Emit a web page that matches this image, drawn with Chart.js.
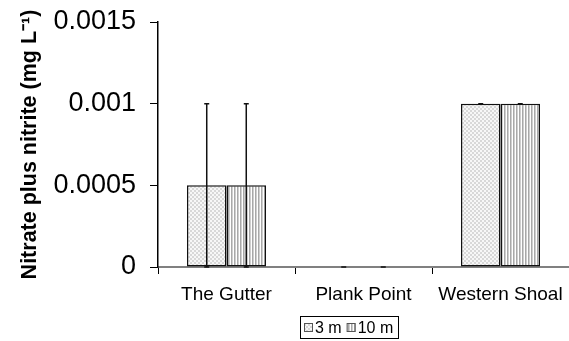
<!DOCTYPE html>
<html>
<head>
<meta charset="utf-8">
<script src="https://cdn.jsdelivr.net/npm/chart.js@4.4.1/dist/chart.umd.min.js"></script>
<style>
  html, body { margin: 0; padding: 0; background: #fff; }
  #wrap { width: 569px; height: 341px; position: relative; }
</style>
</head>
<body>
<div id="wrap"><canvas id="c" width="569" height="341"></canvas></div>
<script>
// Sites and mean nitrate + nitrite concentrations at two depths
const categories = ['The Gutter', 'Plank Point', 'Western Shoal'];
const depth3m = [0.0005, 0, 0.001];
const depth10m = [0.0005, 0, 0.001];
// Symmetric error (± value) for each bar
const err3m = [0.0005, 0, 0];
const err10m = [0.0005, 0, 0];
const yTickLabels = ['0', '0.0005', '0.001', '0.0015'];
const seriesNames = ['3 m', '10 m'];

// Fill patterns: fine checker for 3 m, vertical stripes for 10 m
function checkerPattern() {
  const c = document.createElement('canvas');
  c.width = 4; c.height = 4;
  const g = c.getContext('2d');
  g.fillStyle = '#f7f7f7'; g.fillRect(0, 0, 4, 4);
  g.fillStyle = '#d8d8d8';
  g.fillRect(0, 0, 2, 2); g.fillRect(2, 2, 2, 2);
  return g.createPattern(c, 'repeat');
}
function stripePattern() {
  const c = document.createElement('canvas');
  c.width = 3; c.height = 3;
  const g = c.getContext('2d');
  g.fillStyle = '#ffffff'; g.fillRect(0, 0, 3, 3);
  g.fillStyle = '#a8a8a8'; g.fillRect(0, 0, 1, 3);
  g.fillStyle = '#cfcfcf'; g.fillRect(1, 0, 1, 3);
  return g.createPattern(c, 'repeat');
}
const fills = [checkerPattern(), stripePattern()];
const errs = [err3m, err10m];

// Error bars drawn through the chart's own scales
const errorBars = {
  id: 'errorBars',
  afterDatasetsDraw(chart) {
    const ctx = chart.ctx;
    const y = chart.scales.y;
    ctx.save();
    ctx.strokeStyle = '#111';
    ctx.lineWidth = 1.5;
    chart.data.datasets.forEach((ds, di) => {
      const meta = chart.getDatasetMeta(di);
      meta.data.forEach((bar, i) => {
        const v = ds.data[i], e = errs[di][i];
        const x = bar.x;
        const yHi = y.getPixelForValue(v + e);
        const yLo = y.getPixelForValue(Math.max(0, v - e));
        ctx.beginPath();
        ctx.moveTo(x, yLo); ctx.lineTo(x, yHi);
        ctx.moveTo(x - 2.5, yHi); ctx.lineTo(x + 2.5, yHi);
        ctx.moveTo(x - 2.5, yLo); ctx.lineTo(x + 2.5, yLo);
        ctx.stroke();
      });
    });
    ctx.restore();
  }
};

// Boxed legend below the category labels
const boxedLegend = {
  id: 'boxedLegend',
  afterDraw(chart) {
    const ctx = chart.ctx;
    ctx.save();
    const bx = 300.5, by = 316.5, bw = 98, bh = 22;
    ctx.strokeStyle = '#000'; ctx.lineWidth = 1;
    ctx.strokeRect(bx, by, bw, bh);
    ctx.font = '16px "Liberation Sans", Arial, sans-serif';
    ctx.textBaseline = 'middle';
    ctx.fillStyle = '#000';
    let x = bx + 3.5;
    const cy = by + bh / 2;
    chart.data.datasets.forEach((ds, di) => {
      ctx.fillStyle = fills[di];
      ctx.fillRect(x, cy - 4.5, 9, 9);
      ctx.strokeStyle = '#555';
      ctx.strokeRect(x + 0.5, cy - 4, 8, 8);
      ctx.fillStyle = '#000';
      ctx.fillText(ds.label, x + 11, cy + 1);
      x += 11 + ctx.measureText(ds.label).width + 5;
    });
    ctx.restore();
  }
};

new Chart(document.getElementById('c'), {
  type: 'bar',
  data: {
    labels: categories,
    datasets: [
      { label: seriesNames[0], data: depth3m, backgroundColor: fills[0] },
      { label: seriesNames[1], data: depth10m, backgroundColor: fills[1] }
    ]
  },
  options: {
    responsive: false,
    animation: false,
    devicePixelRatio: 1,
    layout: { padding: { top: 22, right: 0, bottom: 0, left: 0 } },
    datasets: {
      bar: {
        categoryPercentage: 0.577,
        barPercentage: 1,
        borderColor: '#111',
        borderWidth: ctx => (ctx.raw === 0 ? 0 : 1.5),
        borderSkipped: false
      }
    },
    plugins: {
      legend: { display: false },
      tooltip: { enabled: false }
    },
    scales: {
      x: {
        grid: { offset: true, drawOnChartArea: false, drawTicks: true, tickLength: 7, color: '#000', lineWidth: 1 },
        border: { display: true, color: '#808080', width: 2 },
        ticks: { color: '#000', padding: 9, maxRotation: 0, autoSkip: false, font: { family: '"Liberation Sans", Arial, sans-serif', size: 19 } },
        afterFit: s => { s.height = 74; s.paddingLeft = 0; s.paddingRight = 0; }
      },
      y: {
        min: 0, max: 0.0015,
        grid: { drawOnChartArea: false, drawTicks: true, tickLength: 8, color: '#000' },
        border: { display: true, color: '#000', width: 1.5 },
        ticks: {
          stepSize: 0.0005,
          color: '#000',
          padding: 14,
          font: { family: '"Liberation Sans", Arial, sans-serif', size: 27 },
          callback: (v, i) => yTickLabels[i]
        },
        title: {
          display: true,
          text: 'Nitrate plus nitrite (mg L\u207B\u00B9)',
          color: '#000',
          font: { family: '"Liberation Sans", Arial, sans-serif', size: 21.5, weight: 'bold' },
          padding: { top: 17, bottom: 0 }
        },
        afterFit: s => { s.width = 158; s.paddingTop = 0; s.paddingBottom = 0; }
      }
    }
  },
  plugins: [errorBars, boxedLegend]
});
</script>
</body>
</html>
